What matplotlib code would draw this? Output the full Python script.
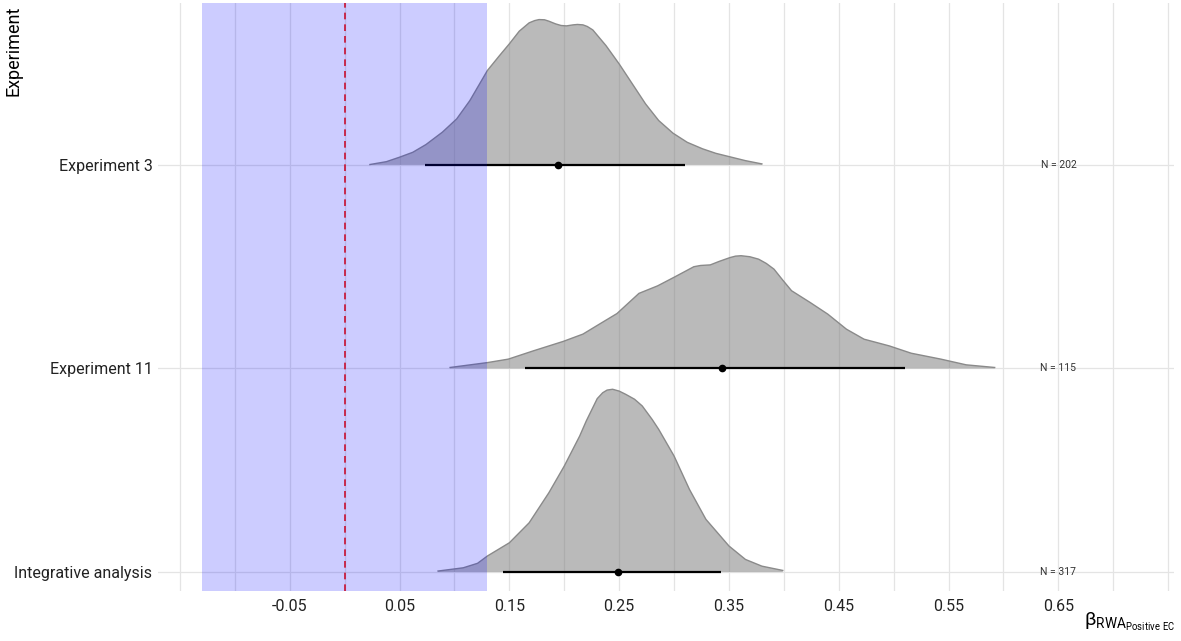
import numpy as np
import matplotlib.pyplot as plt

plt.rcParams['font.family'] = ['Roboto', 'DejaVu Sans']
plt.rcParams['mathtext.fontset'] = 'custom'
plt.rcParams['mathtext.rm'] = 'Roboto'

# rows, bottom to top
labels = ['Integrative analysis', 'Experiment 11', 'Experiment 3']
n_text = ['N = 317', 'N = 115', 'N = 202']

# point estimate and 95% interval
est = [0.249, 0.344, 0.194]
lo = [0.144, 0.164, 0.073]
hi = [0.343, 0.510, 0.310]

# density outlines (beta, scaled height)
x_int = [0.085, 0.108, 0.121, 0.130, 0.150, 0.168, 0.186, 0.200, 0.214, 0.220,
         0.226, 0.230, 0.235, 0.239, 0.244, 0.250, 0.256, 0.264, 0.271, 0.280,
         0.286, 0.300, 0.314, 0.329, 0.350, 0.365, 0.380, 0.399]
h_int = [0.005, 0.021, 0.043, 0.079, 0.144, 0.242, 0.390, 0.521, 0.668, 0.742,
         0.808, 0.852, 0.881, 0.894, 0.898, 0.889, 0.873, 0.849, 0.816, 0.750,
         0.701, 0.570, 0.406, 0.259, 0.128, 0.062, 0.029, 0.008]

x_e11 = [0.096, 0.130, 0.149, 0.172, 0.199, 0.217, 0.232, 0.248, 0.268, 0.285,
         0.301, 0.318, 0.324, 0.333, 0.341, 0.351, 0.356, 0.361, 0.369, 0.377,
         0.384, 0.391, 0.399, 0.407, 0.424, 0.440, 0.457, 0.473, 0.496, 0.516,
         0.543, 0.566, 0.592]
h_e11 = [0.005, 0.029, 0.046, 0.087, 0.133, 0.169, 0.218, 0.270, 0.369, 0.406,
         0.451, 0.500, 0.506, 0.509, 0.526, 0.545, 0.552, 0.554, 0.549, 0.537,
         0.516, 0.488, 0.434, 0.382, 0.324, 0.267, 0.193, 0.144, 0.111, 0.075,
         0.046, 0.018, 0.005]

x_e3 = [0.023, 0.038, 0.050, 0.062, 0.074, 0.089, 0.102, 0.114, 0.130, 0.141,
        0.150, 0.159, 0.168, 0.173, 0.177, 0.182, 0.186, 0.192, 0.197, 0.202,
        0.208, 0.212, 0.217, 0.221, 0.226, 0.238, 0.250, 0.262, 0.274, 0.286,
        0.299, 0.312, 0.326, 0.338, 0.350, 0.365, 0.380]
h_e3 = [0.002, 0.016, 0.038, 0.062, 0.100, 0.161, 0.226, 0.316, 0.464, 0.537,
        0.595, 0.657, 0.698, 0.709, 0.714, 0.713, 0.706, 0.693, 0.685, 0.683,
        0.688, 0.690, 0.688, 0.680, 0.663, 0.586, 0.496, 0.398, 0.300, 0.218,
        0.156, 0.111, 0.079, 0.057, 0.041, 0.021, 0.005]

dens = [(x_int, h_int), (x_e11, h_e11), (x_e3, h_e3)]

rope = (-0.13, 0.13)
major = [-0.05, 0.05, 0.15, 0.25, 0.35, 0.45, 0.55, 0.65]
minor = [-0.15, -0.10, 0.0, 0.10, 0.20, 0.30, 0.40, 0.50, 0.60, 0.70, 0.75]

fig = plt.figure(figsize=(11.81, 6.41), dpi=100)
ax = fig.add_axes([0.1338, 0.078, 0.8600, 0.9175])

for i, (xs, hs) in enumerate(dens):
    y0 = i + 1
    top = np.array(hs) + y0
    ax.fill_between(xs, y0, top, facecolor='#777777', alpha=0.5,
                    edgecolor='none', zorder=2)
    ax.plot(xs, top, color='#8a8a8a', lw=1.0, zorder=3, solid_joinstyle='round')
    ax.plot([lo[i], hi[i]], [y0, y0], color='black', lw=1.6, zorder=4,
            solid_capstyle='butt')
    ax.plot(est[i], y0, 'o', color='black', ms=4.5, zorder=5)
    ax.text(0.65, y0, n_text[i], fontsize=7.5, ha='center', va='center',
            color='#333333', zorder=5)

ax.axvspan(rope[0], rope[1], color='blue', alpha=0.2, lw=0, zorder=6)
ax.axvline(0, color='#c8102e', ls=(0, (4, 3)), lw=1.2, zorder=7)

ax.set_xlim(-0.170, 0.755)
ax.set_ylim(0.907, 3.796)
ax.set_xticks(major)
ax.set_xticklabels(['-0.05', '0.05', '0.15', '0.25', '0.35', '0.45', '0.55', '0.65'])
ax.set_xticks(minor, minor=True)
ax.set_yticks([1, 2, 3])
ax.set_yticklabels(labels)
ax.tick_params(axis='both', which='both', length=0, labelsize=11.5, colors='#222222')
ax.tick_params(axis='x', pad=6)
ax.tick_params(axis='y', pad=4)
ax.grid(True, which='both', color='#e4e4e4', lw=0.9, zorder=0)
ax.set_axisbelow(True)
for s in ax.spines.values():
    s.set_visible(False)

ax.set_ylabel('Experiment', fontsize=13, loc='top')
ax.yaxis.set_label_coords(-0.133, 0.995)
fig.text(0.995, 0.012, r'$\mathrm{β}_{\mathrm{RWA}_{\mathrm{Positive\ EC}}}$',
         fontsize=14, ha='right', va='bottom')

fig.savefig('out.png', dpi=100)
